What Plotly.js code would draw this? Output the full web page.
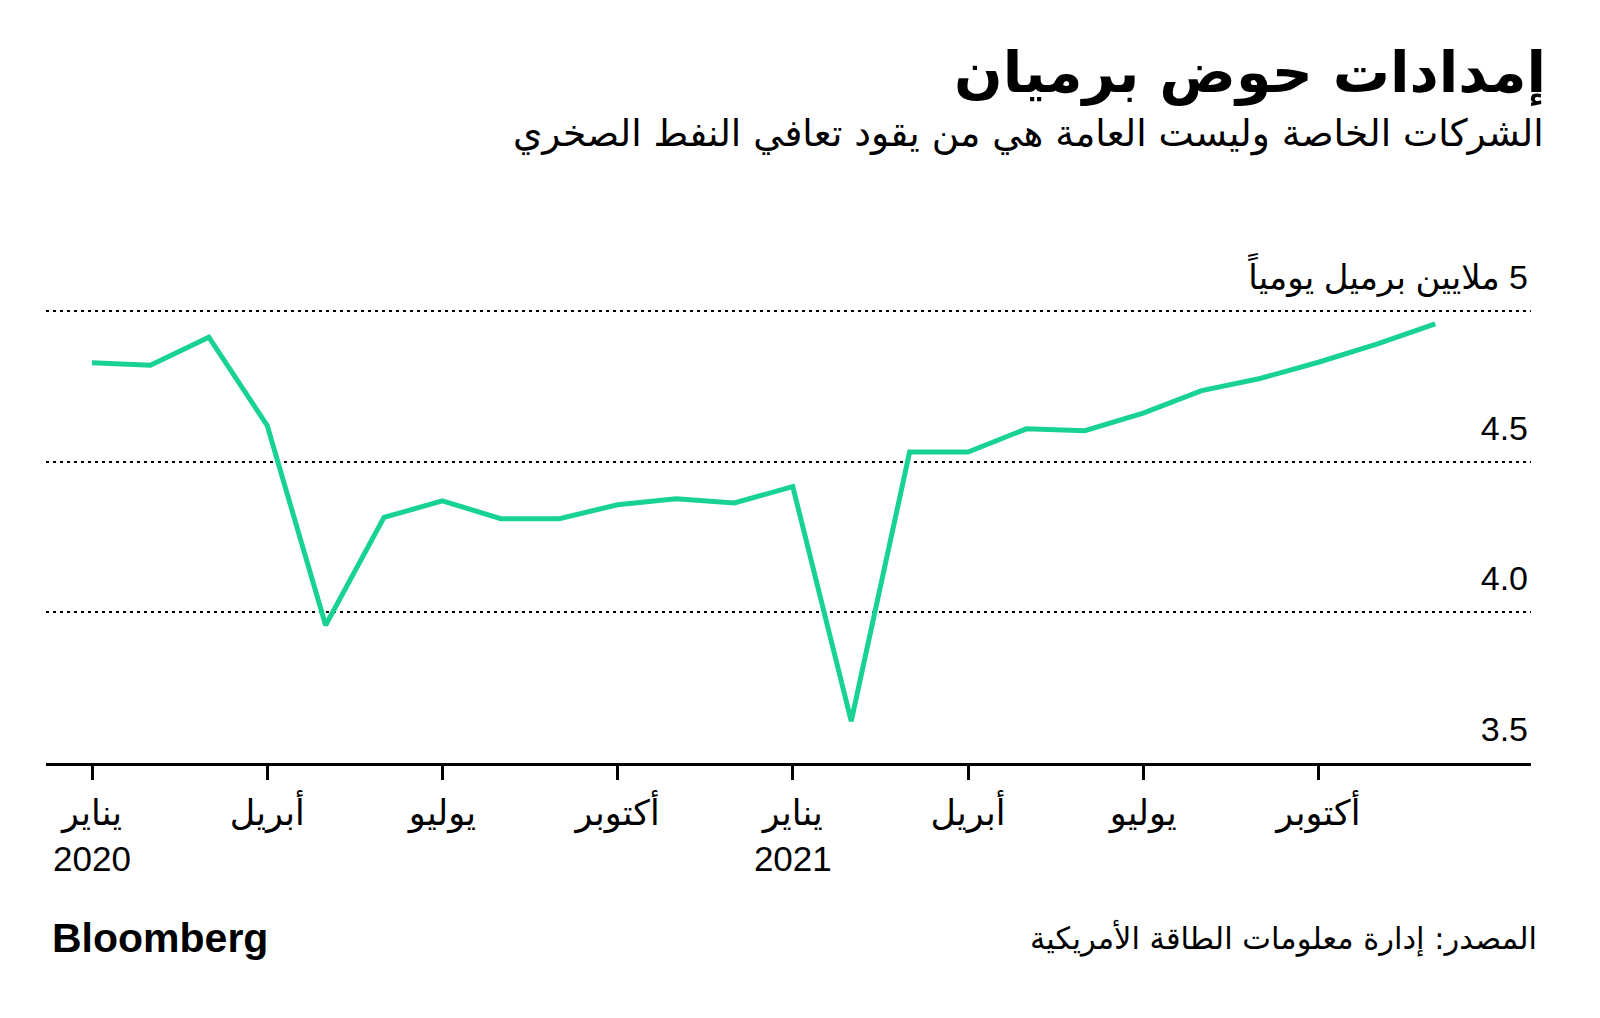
<!DOCTYPE html>
<html>
<head>
<meta charset="utf-8">
<script src="https://cdn.plot.ly/plotly-3.0.1.min.js"></script>
<style>
  html, body { margin: 0; padding: 0; background: #ffffff; }
  #chart { width: 1600px; height: 1018px; }
</style>
</head>
<body>
<div id="chart"></div>
<script>
// ---- Data ----
const months = [
  '2020-01','2020-02','2020-03','2020-04','2020-05','2020-06',
  '2020-07','2020-08','2020-09','2020-10','2020-11','2020-12',
  '2021-01','2021-02','2021-03','2021-04','2021-05','2021-06',
  '2021-07','2021-08','2021-09','2021-10','2021-11','2021-12'
];
const permianSupply = [
  4.828, 4.820, 4.913, 4.620, 3.957, 4.315,
  4.370, 4.311, 4.311, 4.357, 4.377, 4.363,
  4.417, 3.639, 4.532, 4.532, 4.609, 4.603,
  4.661, 4.736, 4.776, 4.830, 4.890, 4.957
];
const xTickVals = ['2020-01','2020-04','2020-07','2020-10',
                   '2021-01','2021-04','2021-07','2021-10'];
const xTickText = ['يناير<br>2020','أبريل','يوليو','أكتوبر',
                   'يناير<br>2021','أبريل','يوليو','أكتوبر'];
const yTickVals = [3.5, 4.0, 4.5, 5.0];
const yTickText = ['3.5', '4.0', '4.5', '\u200F5 ملايين برميل يومياً'];

const titleText = 'إمدادات حوض برميان';
const subtitleText = 'الشركات الخاصة وليست العامة هي من يقود تعافي النفط الصخري';
const sourceText = 'المصدر: إدارة معلومات الطاقة الأمريكية';
const logoText = 'Bloomberg';

// ---- Chart ----
const FONT = 'Liberation Sans, DejaVu Sans, sans-serif';

const trace = {
  x: months,
  y: permianSupply,
  type: 'scatter',
  mode: 'lines',
  line: { color: '#18d294', width: 5 },
  hoverinfo: 'skip'
};

const layout = {
  width: 1600,
  height: 1018,
  paper_bgcolor: '#ffffff',
  plot_bgcolor: '#ffffff',
  showlegend: false,
  margin: { l: 46, r: 69, t: 308, b: 255 },
  font: { family: FONT, color: '#000000' },
  title: {
    text: '<b>' + titleText + '</b>',
    xref: 'container', yref: 'container',
    x: 0.96625, xanchor: 'right',
    y: 0.929, yanchor: 'middle',
    font: { family: 'DejaVu Sans, sans-serif', size: 57, color: '#000000' }
  },
  xaxis: {
    type: 'category',
    categoryorder: 'array',
    categoryarray: months,
    range: [-0.788, 24.64],
    tickmode: 'array',
    tickvals: xTickVals,
    ticktext: xTickText,
    ticks: 'outside',
    ticklen: 14,
    tickwidth: 3,
    tickcolor: '#000000',
    ticklabelstandoff: 3,
    showline: true,
    linecolor: '#000000',
    linewidth: 3,
    showgrid: false,
    zeroline: false,
    tickfont: { family: FONT, size: 35, color: '#000000' },
    fixedrange: true
  },
  yaxis: {
    range: [3.5, 5.01],
    side: 'right',
    tickmode: 'array',
    tickvals: yTickVals,
    ticktext: yTickText,
    ticks: '',
    ticklabelposition: 'inside',
    ticklabeloverflow: 'allow',
    ticklabelshift: -34,
    ticklabelstandoff: 0,
    showline: false,
    showgrid: true,
    gridcolor: '#000000',
    gridwidth: 2,
    griddash: '3px,4px',
    zeroline: false,
    tickfont: { family: FONT, size: 34, color: '#000000' },
    fixedrange: true
  },
  annotations: [
    {
      text: subtitleText,
      xref: 'paper', yref: 'paper',
      x: 1.0101, xanchor: 'right',
      y: 1.3827, yanchor: 'middle',
      showarrow: false,
      font: { family: 'DejaVu Sans, sans-serif', size: 37.5, color: '#000000' }
    },
    {
      text: '<b>' + logoText + '</b>',
      xref: 'paper', yref: 'paper',
      x: 0.0027, xanchor: 'left',
      y: -0.385, yanchor: 'middle',
      showarrow: false,
      font: { family: 'Liberation Sans, Arial, sans-serif', size: 41, color: '#000000' }
    },
    {
      text: sourceText,
      xref: 'paper', yref: 'paper',
      x: 1.0054, xanchor: 'right',
      y: -0.385, yanchor: 'middle',
      showarrow: false,
      font: { family: 'DejaVu Sans, sans-serif', size: 30.5, color: '#000000' }
    }
  ]
};

Plotly.newPlot('chart', [trace], layout, { displayModeBar: false, staticPlot: true });
</script>
</body>
</html>
